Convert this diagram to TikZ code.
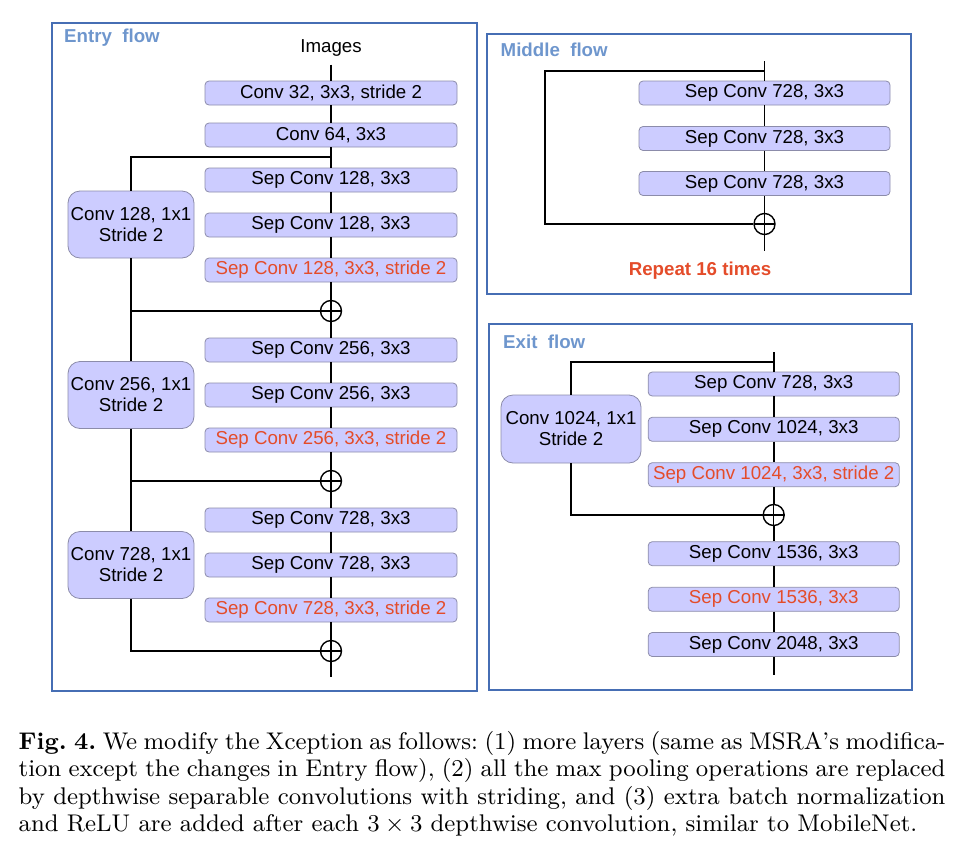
\documentclass[tikz,border=0pt]{standalone}
\usepackage{fontspec}
\usepackage{graphicx}
\newfontfamily\arialf{Liberation Sans}
\definecolor{framecol}{RGB}{70,110,180}
\definecolor{titlecol}{RGB}{110,150,205}
\definecolor{redtxt}{RGB}{228,76,42}
\definecolor{boxfill}{RGB}{204,204,255}
\definecolor{boxdraw}{RGB}{140,140,170}
\tikzset{
  frame/.style={draw=framecol, line width=1.8pt},
  ttl/.style={anchor=west, text=titlecol, font=\arialf\bfseries\fontsize{18.7}{21}\selectfont, inner sep=0},
  blk/.style={rectangle, rounded corners=4pt, fill=boxfill, draw=boxdraw, line width=0.8pt,
     minimum width=252pt, minimum height=24pt, inner sep=0, font=\arialf\fontsize{18.7}{21}\selectfont},
  redblk/.style={blk, text=redtxt},
  side/.style={rectangle, rounded corners=12pt, fill=boxfill, draw=boxdraw, line width=0.8pt,
     minimum width=126pt, minimum height=67pt, inner sep=0, align=center, font=\arialf\fontsize{18.7}{21}\selectfont},
  plus/.style={circle, draw, line width=1.4pt, minimum size=21pt, inner sep=0, fill=white,
     path picture={\draw[line width=1.2pt] (path picture bounding box.north) -- (path picture bounding box.south)
       (path picture bounding box.west) -- (path picture bounding box.east);}},
  conn/.style={line width=1.6pt, black},
  plain/.style={font=\arialf\fontsize{18.7}{21}\selectfont, inner sep=0}
}
\begin{document}
\begin{tikzpicture}[x=1pt,y=-1pt]
\useasboundingbox (0,0) rectangle (971,862);
% frames
\draw[frame] (52,23) rectangle (477,691);
\draw[frame] (487,34) rectangle (911,294);
\draw[frame] (489,324) rectangle (912,690);
\node[ttl] (tentry) at (64,38) {Entry\ \ flow};
\node[ttl] (tmid) at (500.5,50) {Middle\ \ flow};
\node[ttl] (texit) at (503,341.5) {Exit\ \ flow};

% ===== Entry flow =====
\node[plain] (images) at (331,48) {Images};
\node[blk] (e1) at (331,93) {Conv 32, 3x3, stride 2};
\node[blk] (e2) at (331,135) {Conv 64, 3x3};
\node[blk] (e3) at (331,180) {Sep Conv 128, 3x3};
\node[blk] (e4) at (331,225) {Sep Conv 128, 3x3};
\node[redblk] (e5) at (331,270) {Sep Conv 128, 3x3, stride 2};
\node[plus] (p1) at (331,311) {};
\node[blk] (e6) at (331,350) {Sep Conv 256, 3x3};
\node[blk] (e7) at (331,395) {Sep Conv 256, 3x3};
\node[redblk] (e8) at (331,440) {Sep Conv 256, 3x3, stride 2};
\node[plus] (p2) at (331,481) {};
\node[blk] (e9) at (331,520) {Sep Conv 728, 3x3};
\node[blk] (e10) at (331,565) {Sep Conv 728, 3x3};
\node[redblk] (e11) at (331,610) {Sep Conv 728, 3x3, stride 2};
\node[plus] (p3) at (331,651) {};
\coordinate (eend) at (331,677);
\coordinate (ebr) at (331,157);
\node[side] (s1) at (131,224.5) {Conv 128, 1x1\\Stride 2};
\node[side] (s2) at (131,395) {Conv 256, 1x1\\Stride 2};
\node[side] (s3) at (131,565) {Conv 728, 1x1\\Stride 2};

\draw[conn] (images.south) ++(0,8) coordinate (itop) (itop) -- (e1);
\draw[conn] (e1) -- (e2);
\draw[conn] (e2) -- (e3);
\draw[conn] (e3) -- (e4);
\draw[conn] (e4) -- (e5);
\draw[conn] (e5) -- (p1);
\draw[conn] (p1) -- (e6);
\draw[conn] (e6) -- (e7);
\draw[conn] (e7) -- (e8);
\draw[conn] (e8) -- (p2);
\draw[conn] (p2) -- (e9);
\draw[conn] (e9) -- (e10);
\draw[conn] (e10) -- (e11);
\draw[conn] (e11) -- (p3);
\draw[conn] (p3) -- (eend);
\draw[conn] (ebr) -| (s1.north);
\draw[conn] (s1.south) |- (p1.west);
\draw[conn] (p1.west) -| (s2.north);
\draw[conn] (s2.south) |- (p2.west);
\draw[conn] (p2.west) -| (s3.north);
\draw[conn] (s3.south) |- (p3.west);

% ===== Middle flow =====
\coordinate (mtop) at (764.5,61);
\coordinate (mbr) at (764.5,70.7);
\coordinate (mleft) at (545,70.7);
\node[blk, minimum width=251pt] (m1) at (764.5,93) {Sep Conv 728, 3x3};
\node[blk, minimum width=251pt] (m2) at (764.5,138.5) {Sep Conv 728, 3x3};
\node[blk, minimum width=251pt] (m3) at (764.5,183.5) {Sep Conv 728, 3x3};
\node[plus] (mp) at (764.5,224) {};
\coordinate (mend) at (764.5,251);
\draw[conn] (mtop) -- (m1);
\draw[conn] (m1) -- (m2);
\draw[conn] (m2) -- (m3);
\draw[conn] (m3) -- (mp);
\draw[conn] (mp) -- (mend);
\draw[conn] (mbr) -- (mleft) |- (mp.west);
\node[plain, text=redtxt, font=\arialf\bfseries\fontsize{18.7}{21}\selectfont] (rep) at (700,271) {Repeat 16 times};

% ===== Exit flow =====
\coordinate (xtop) at (773.7,352);
\coordinate (xbr) at (773.7,362);
\node[blk, minimum width=251pt] (x1) at (773.7,384) {Sep Conv 728, 3x3};
\node[blk, minimum width=251pt] (x2) at (773.7,429.3) {Sep Conv 1024, 3x3};
\node[redblk, minimum width=251pt] (x3) at (773.7,474.7) {Sep Conv 1024, 3x3, stride 2};
\node[plus] (xp) at (773.7,515) {};
\node[blk, minimum width=251pt] (x4) at (773.7,553.7) {Sep Conv 1536, 3x3};
\node[redblk, minimum width=251pt] (x5) at (773.7,599.3) {Sep Conv 1536, 3x3};
\node[blk, minimum width=251pt] (x6) at (773.7,644.5) {Sep Conv 2048, 3x3};
\coordinate (xend) at (773.7,675);
\node[side, minimum width=140pt, minimum height=68pt] (xs) at (571,429) {Conv 1024, 1x1\\Stride 2};
\draw[conn] (xtop) -- (x1);
\draw[conn] (x1) -- (x2);
\draw[conn] (x2) -- (x3);
\draw[conn] (x3) -- (xp);
\draw[conn] (xp) -- (x4);
\draw[conn] (x4) -- (x5);
\draw[conn] (x5) -- (x6);
\draw[conn] (x6) -- (xend);
\draw[conn] (xbr) -| (xs.north);
\draw[conn] (xs.south) |- (xp.west);

% ===== Caption =====
\node[anchor=base west, inner sep=0] (cap) at (18.5,749) {\scalebox{2.68}{\parbox[t]{345.8pt}{\fontsize{9}{10.26}\selectfont\frenchspacing\setlength{\parindent}{0pt}%
\makebox[\linewidth][s]{\textbf{Fig.~4.} We modify the Xception as follows: (1) more layers (same as MSRA's modifica-}\par
\makebox[\linewidth][s]{tion except the changes in Entry flow), (2) all the max pooling operations are replaced}\par
\makebox[\linewidth][s]{by depthwise separable convolutions with striding, and (3) extra batch normalization}\par
and ReLU are added after each $3\times 3$ depthwise convolution, similar to MobileNet.}}};
\end{tikzpicture}
\end{document}
